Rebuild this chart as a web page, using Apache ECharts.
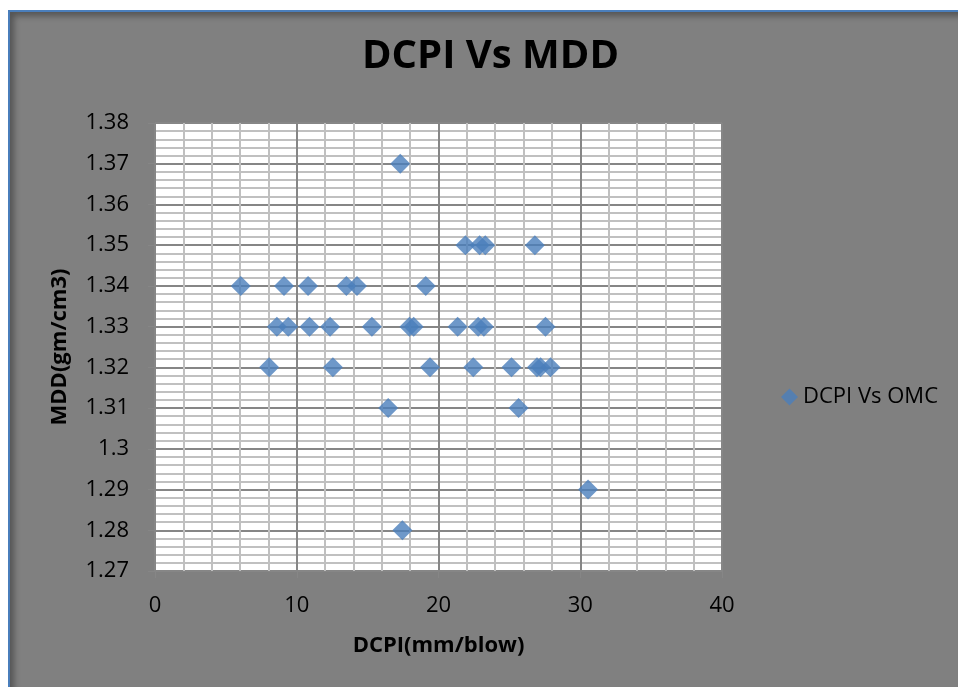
<!DOCTYPE html>
<html>
<head>
<meta charset="utf-8">
<script src="https://cdn.jsdelivr.net/npm/echarts@6/dist/echarts.min.js"></script>
<style>
html,body{margin:0;padding:0;background:#fff;}
#frame{position:absolute;left:8px;top:10px;width:950px;height:677px;background:#808080;border-left:2px solid #4a7ebb;border-top:2px solid #4a7ebb;box-shadow:inset 4px 4px 6px rgba(0,0,0,0.35);}
#chart{position:absolute;left:0;top:0;width:958px;height:687px;}
</style>
</head>
<body>
<div id="frame"></div>
<div id="chart"></div>
<script>
const seriesName = 'DCPI Vs OMC';
const dcpi = [17.3, 21.9, 22.9, 23.3, 26.8,
  6.05, 9.1, 10.8, 13.5, 14.25, 19.1,
  8.6, 9.4, 10.9, 12.35, 15.3, 17.95, 18.25, 21.35, 22.8, 23.2, 27.55,
  8.05, 12.55, 19.4, 22.45, 25.15, 26.95, 27.2, 27.9,
  16.45, 25.65, 30.55, 17.45];
const mdd = [1.37, 1.35, 1.35, 1.35, 1.35,
  1.34, 1.34, 1.34, 1.34, 1.34, 1.34,
  1.33, 1.33, 1.33, 1.33, 1.33, 1.33, 1.33, 1.33, 1.33, 1.33, 1.33,
  1.32, 1.32, 1.32, 1.32, 1.32, 1.32, 1.32, 1.32,
  1.31, 1.31, 1.29, 1.28];
const titleText = 'DCPI Vs MDD';
const xName = 'DCPI(mm/blow)';
const yName = 'MDD(gm/cm3)';

const chart = echarts.init(document.getElementById('chart'));
const font = '"Open Sans", "Noto Sans", sans-serif';
chart.setOption({
  backgroundColor: 'transparent',
  animation: false,
  textStyle: {fontFamily: font},
  title: {
    text: titleText, left: 357, top: 32,
    textStyle: {fontSize: 40, fontWeight: 'bold', color: '#000', fontFamily: font}
  },
  legend: {
    left: 776, top: 381, icon: 'diamond', itemWidth: 17, itemHeight: 17, itemGap: 4,
    textStyle: {fontSize: 22, color: '#000', fontFamily: font},
    data: [seriesName]
  },
  grid: {left: 155, right: 236, top: 123, bottom: 116, show: true, backgroundColor: '#fff', borderWidth: 0},
  xAxis: {
    type: 'value', min: 0, max: 40, interval: 10,
    name: xName, nameLocation: 'middle', nameGap: 64,
    nameTextStyle: {fontSize: 22, fontWeight: 'bold', color: '#000'},
    axisLine: {show: true, lineStyle: {color: '#868686', width: 1}},
    axisTick: {show: true, length: 7, lineStyle: {color: '#868686'}},
    axisLabel: {fontSize: 22, color: '#000', margin: 24},
    splitLine: {show: true, lineStyle: {color: '#868686', width: 2}},
    minorTick: {show: true, splitNumber: 5, length: 0},
    minorSplitLine: {show: true, lineStyle: {color: '#c0c0c0', width: 2}}
  },
  yAxis: {
    type: 'value', min: 1.27, max: 1.38, interval: 0.01,
    name: yName, nameLocation: 'middle', nameGap: 84, nameRotate: 90,
    nameTextStyle: {fontSize: 22, fontWeight: 'bold', color: '#000'},
    axisLine: {show: true, lineStyle: {color: '#868686', width: 1}},
    axisTick: {show: true, length: 7, lineStyle: {color: '#868686'}},
    axisLabel: {fontSize: 22, color: '#000', margin: 26, formatter: v => String(+v.toFixed(2))},
    splitLine: {show: true, lineStyle: {color: '#868686', width: 2}},
    minorTick: {show: true, splitNumber: 5, length: 0},
    minorSplitLine: {show: true, lineStyle: {color: '#c0c0c0', width: 2}}
  },
  series: [{
    name: seriesName, type: 'scatter', symbol: 'diamond', symbolSize: [20, 20],
    itemStyle: {color: '#4a7ebb'},
    data: dcpi.map((x, i) => [x, mdd[i]])
  }]
});
</script>
</body>
</html>
